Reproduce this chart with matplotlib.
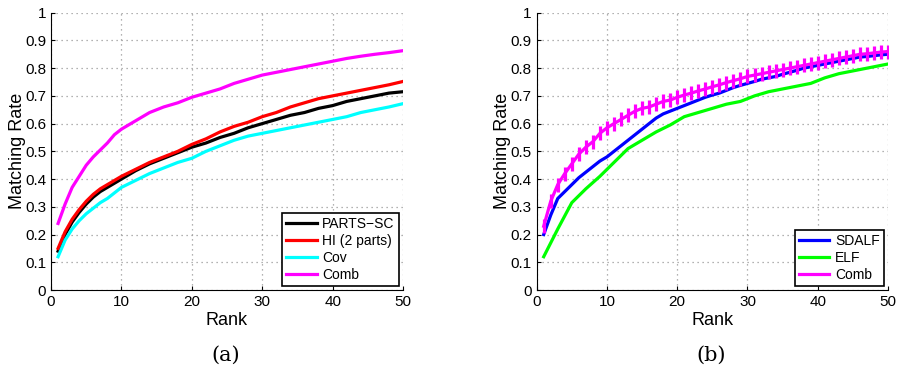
import numpy as np
import matplotlib
matplotlib.use("Agg")
import matplotlib.pyplot as plt

plt.rc('font', family=['Liberation Sans', 'DejaVu Sans'], size=10)

# ---- panel (a) ----
rank_a = [1, 2, 3, 4, 5, 6, 7, 8, 9, 10, 12, 14, 16, 18, 20, 22, 24, 26, 28, 30,
          32, 34, 36, 38, 40, 42, 44, 46, 48, 50]
parts_sc = [0.14, 0.20, 0.245, 0.28, 0.31, 0.335, 0.355, 0.37, 0.385, 0.40, 0.43, 0.455,
            0.475, 0.495, 0.515, 0.53, 0.55, 0.565, 0.585, 0.60, 0.615, 0.63, 0.64, 0.655,
            0.665, 0.68, 0.69, 0.70, 0.71, 0.715]
hi_2parts = [0.15, 0.21, 0.255, 0.29, 0.32, 0.345, 0.365, 0.38, 0.395, 0.41, 0.435, 0.46,
             0.48, 0.50, 0.525, 0.545, 0.57, 0.59, 0.605, 0.625, 0.64, 0.66, 0.675, 0.69,
             0.70, 0.71, 0.72, 0.73, 0.74, 0.752]
cov = [0.12, 0.18, 0.22, 0.25, 0.275, 0.295, 0.315, 0.33, 0.35, 0.37, 0.395, 0.42,
       0.44, 0.46, 0.475, 0.50, 0.52, 0.54, 0.555, 0.565, 0.575, 0.585, 0.595, 0.605,
       0.615, 0.625, 0.64, 0.65, 0.66, 0.672]
comb_a = [0.24, 0.31, 0.37, 0.41, 0.45, 0.48, 0.505, 0.53, 0.56, 0.58, 0.61, 0.64,
          0.66, 0.675, 0.695, 0.71, 0.725, 0.745, 0.76, 0.775, 0.785, 0.795, 0.805, 0.815,
          0.825, 0.835, 0.843, 0.85, 0.856, 0.863]

# ---- panel (b) ----
rank_b = list(range(1, 51))
sdalf = [0.20, 0.27, 0.33, 0.355, 0.38, 0.405, 0.425, 0.445, 0.465, 0.48,
         0.50, 0.52, 0.54, 0.56, 0.58, 0.60, 0.62, 0.635, 0.645, 0.655,
         0.665, 0.675, 0.685, 0.695, 0.703, 0.71, 0.72, 0.73, 0.738, 0.745,
         0.752, 0.76, 0.765, 0.77, 0.778, 0.785, 0.792, 0.80, 0.805, 0.81,
         0.815, 0.82, 0.825, 0.83, 0.835, 0.84, 0.842, 0.845, 0.848, 0.85]
rank_elf = [1, 3, 5, 7, 9, 11, 13, 15, 17, 19, 21, 23, 25, 27, 29, 31, 33, 35, 37, 39,
            41, 43, 45, 47, 49, 50]
elf = [0.12, 0.22, 0.315, 0.365, 0.41, 0.46, 0.51, 0.54, 0.57, 0.595, 0.625, 0.64,
       0.655, 0.67, 0.68, 0.70, 0.715, 0.725, 0.735, 0.745, 0.765, 0.78, 0.79, 0.80,
       0.81, 0.815]
comb_b = [0.23, 0.32, 0.38, 0.42, 0.455, 0.49, 0.515, 0.535, 0.565, 0.585,
          0.60, 0.615, 0.63, 0.645, 0.655, 0.66, 0.67, 0.68, 0.685, 0.695,
          0.703, 0.71, 0.718, 0.725, 0.733, 0.74, 0.748, 0.755, 0.762, 0.77,
          0.775, 0.78, 0.785, 0.79, 0.795, 0.80, 0.805, 0.81, 0.815, 0.82,
          0.825, 0.83, 0.835, 0.84, 0.845, 0.85, 0.852, 0.855, 0.858, 0.86]

fig = plt.figure(figsize=(8.97, 3.71), dpi=100)
ax1 = fig.add_axes([0.0569, 0.2183, 0.3924, 0.7475])
ax2 = fig.add_axes([0.5983, 0.2183, 0.3917, 0.7475])

lw = 2.3
ax1.plot(rank_a, parts_sc, color='black', lw=lw, label='PARTS\u2212SC')
ax1.plot(rank_a, hi_2parts, color='#ff0000', lw=lw, label='HI (2 parts)')
ax1.plot(rank_a, cov, color='#00ffff', lw=lw, label='Cov')
ax1.plot(rank_a, comb_a, color='#ff00ff', lw=lw, label='Comb')

ax2.plot(rank_b, sdalf, color='#0000ff', lw=lw, label='SDALF')
ax2.plot(rank_elf, elf, color='#00ff00', lw=lw, label='ELF')
ax2.plot(rank_b, comb_b, color='#ff00ff', lw=lw, marker='|', markersize=10,
         markeredgewidth=2.3, label='Comb')

for ax in (ax1, ax2):
    ax.set_xlim(0, 50)
    ax.set_ylim(0, 1)
    ax.set_xticks(np.arange(0, 51, 10))
    ax.set_yticks(np.arange(0, 1.01, 0.1))
    ax.set_yticklabels(['0', '0.1', '0.2', '0.3', '0.4', '0.5', '0.6', '0.7', '0.8', '0.9', '1'])
    ax.grid(True, linestyle=(0, (1, 3)), color='#999999', linewidth=0.9)
    ax.spines['top'].set_visible(False)
    ax.spines['right'].set_visible(False)
    ax.tick_params(direction='in', length=3, labelsize=11)
    ax.set_xlabel('Rank', fontsize=13, labelpad=2)
    ax.set_ylabel('Matching Rate', fontsize=13)
    ax.yaxis.set_label_coords(-0.072, 0.5)
    leg = ax.legend(loc='lower right', fontsize=10, fancybox=False, edgecolor='black',
                    handlelength=2.2, handletextpad=0.4, borderpad=0.3,
                    labelspacing=0.2, borderaxespad=0.3, framealpha=1)
    leg.get_frame().set_linewidth(1.2)
    for h in leg.get_lines():
        h.set_marker('')

fig.text(0.252, 0.043, '(a)', ha='center', va='center', fontsize=15, family='DejaVu Serif')
fig.text(0.793, 0.043, '(b)', ha='center', va='center', fontsize=15, family='DejaVu Serif')

fig.savefig('out.png', dpi=100)
